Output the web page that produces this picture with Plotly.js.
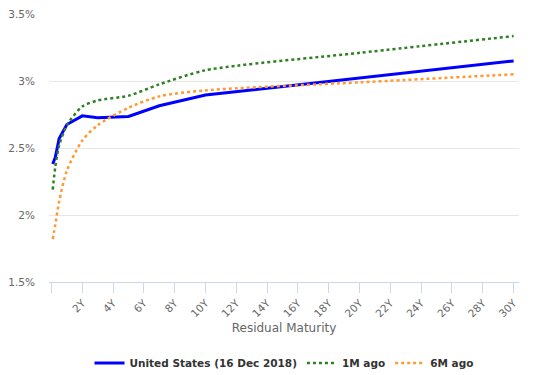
<!DOCTYPE html>
<html>
<head>
<meta charset="utf-8">
<script src="https://cdn.plot.ly/plotly-3.0.1.min.js"></script>
<style>html,body{margin:0;padding:0;background:#fff;}#chart{width:537px;height:375px;}</style>
</head>
<body>
<div id="chart"></div>
<script>
// Maturities in years
const maturities = [1/12, 0.25, 0.5, 1, 2, 3, 5, 7, 10, 20, 30];
const usNow = [2.38, 2.43, 2.57, 2.675, 2.74, 2.725, 2.735, 2.815, 2.895, 3.02, 3.15];
const oneMonthAgo = [2.19, 2.36, 2.52, 2.67, 2.81, 2.855, 2.89, 2.975, 3.08, 3.21, 3.335];
const sixMonthsAgo = [1.82, 1.93, 2.10, 2.33, 2.555, 2.67, 2.80, 2.885, 2.93, 2.99, 3.05];
const seriesNames = ["United States (16 Dec 2018)", "1M ago", "6M ago"];
const xTickVals = [0, 2, 4, 6, 8, 10, 12, 14, 16, 18, 20, 22, 24, 26, 28, 30];
const xTickText = ["", "2Y", "4Y", "6Y", "8Y", "10Y", "12Y", "14Y", "16Y", "18Y", "20Y", "22Y", "24Y", "26Y", "28Y", "30Y"];
const yTickVals = [1.5, 2, 2.5, 3, 3.5];
const yTickText = ["1.5%", "2%", "2.5%", "3%", "3.5%"];

const traces = [
  {x: maturities, y: usNow, name: seriesNames[0], type: 'scatter', mode: 'lines',
   line: {color: '#0000ff', width: 3}},
  {x: maturities, y: oneMonthAgo, name: seriesNames[1], type: 'scatter', mode: 'lines',
   line: {color: '#2f7f23', width: 2.5, dash: 'dot', shape: 'spline', smoothing: 0.7}},
  {x: maturities, y: sixMonthsAgo, name: seriesNames[2], type: 'scatter', mode: 'lines',
   line: {color: '#ff9a33', width: 2.5, dash: 'dot', shape: 'spline', smoothing: 0.8}}
];

const layout = {
  width: 537, height: 375,
  margin: {l: 49, r: 18, t: 14, b: 93, autoexpand: false},
  paper_bgcolor: '#ffffff', plot_bgcolor: '#ffffff',
  font: {family: 'DejaVu Sans, sans-serif', color: '#666666', size: 11},
  showlegend: true,
  legend: {orientation: 'h', x: 0.5, xanchor: 'center', y: -0.302, yanchor: 'middle',
    font: {size: 10.5, color: '#333333', weight: 700}, itemwidth: 30, tracegroupgap: 0},
  xaxis: {
    automargin: false,
    range: [-0.16, 30.35], tickmode: 'array', tickvals: xTickVals, ticktext: xTickText,
    tickangle: -45, ticks: 'outside', ticklen: 10, tickcolor: '#ccd6eb', tickwidth: 1,
    showline: true, linecolor: '#ccd6eb', linewidth: 1, showgrid: false, zeroline: false,
    tickfont: {size: 10.5, color: '#666666'},
    title: {text: 'Residual Maturity', font: {size: 12, color: '#666666'}, standoff: 5}
  },
  yaxis: {
    automargin: false,
    range: [1.5, 3.5], tickmode: 'array', tickvals: yTickVals, ticktext: yTickText,
    showgrid: true, gridcolor: '#e6e6e6', gridwidth: 1, zeroline: false, showline: false,
    ticks: '', ticklabelstandoff: 13, tickfont: {size: 10.5, color: '#666666'}
  }
};

Plotly.newPlot('chart', traces, layout, {displayModeBar: false, staticPlot: true});
</script>
</body>
</html>
